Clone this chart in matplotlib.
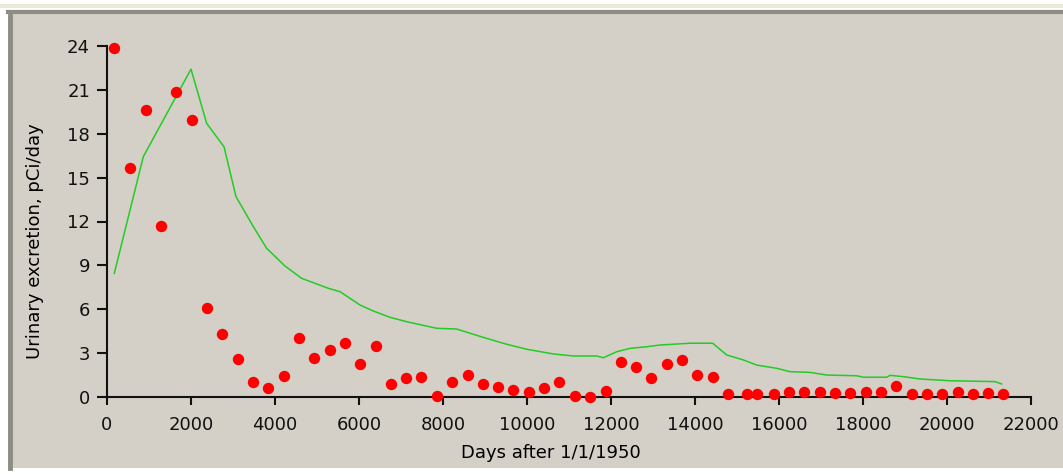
import matplotlib
matplotlib.use("Agg")
import matplotlib.pyplot as plt
from matplotlib.patches import Rectangle
from matplotlib.lines import Line2D

# measured urinary excretion (about one sample per year)
obs_days = [174, 548, 921, 1286, 1635, 2024, 2373, 2738, 3111, 3476, 3833, 4206,
            4571, 4921, 5302, 5667, 6024, 6397, 6754, 7111, 7484, 7849, 8207,
            8587, 8944, 9309, 9674, 10040, 10405, 10770, 11143, 11508, 11873,
            12238, 12587, 12960, 13325, 13683, 14050, 14421, 14794, 15240,
            15480, 15889, 16246, 16603, 16976, 17333, 17690, 18064, 18429,
            18786, 19159, 19516, 19888, 20254, 20611, 20984, 21340]
obs_vals = [23.86, 15.67, 19.6, 11.69, 20.86, 18.93, 6.12, 4.3, 2.59, 1.02, 0.66,
            1.48, 4.03, 2.66, 3.23, 3.73, 2.27, 3.5, 0.91, 1.3, 1.37, 0.11, 1.02,
            1.52, 0.91, 0.72, 0.5, 0.38, 0.61, 1.02, 0.11, 0.04, 0.45, 2.39,
            2.05, 1.3, 2.27, 2.55, 1.55, 1.37, 0.2, 0.2, 0.2, 0.2, 0.38, 0.38,
            0.34, 0.27, 0.27, 0.34, 0.38, 0.77, 0.2, 0.2, 0.2, 0.34, 0.23, 0.27,
            0.2]

# model prediction
model_days = [174, 864, 2000, 2373, 2786, 3071, 3484, 3802, 4238, 4635, 5270,
              5548, 6024, 6341, 6738, 7135, 7849, 8325, 8960, 9516, 9992, 10627,
              11103, 11659, 11817, 12135, 12452, 12849, 13167, 13881, 14421,
              14754, 15151, 15468, 15945, 16262, 16738, 17135, 17849, 18008,
              18564, 18643, 18960, 19357, 20071, 21143, 21302]
model_vals = [8.46, 16.42, 22.4, 18.7, 17.1, 13.7, 11.65, 10.17, 8.96, 8.12, 7.44,
              7.21, 6.3, 5.89, 5.46, 5.16, 4.71, 4.66, 4.09, 3.62, 3.28, 2.96,
              2.82, 2.82, 2.7, 3.11, 3.34, 3.45, 3.57, 3.69, 3.69, 2.89, 2.55,
              2.2, 1.98, 1.75, 1.7, 1.52, 1.47, 1.37, 1.37, 1.5, 1.41, 1.25, 1.13,
              1.07, 0.91]

x_ticks = list(range(0, 22001, 2000))
y_ticks = list(range(0, 25, 3))

W, H = 1063, 474
bg = "#D4D0C8"
fs = 13

plt.rcParams["font.family"] = ["DejaVu Sans"]
fig = plt.figure(figsize=(W / 100, H / 100), dpi=100, facecolor="white")

# window-like panel behind the chart
fig.patches.append(Rectangle((12 / W, 1 - 468 / H), 1, (468 - 12) / H,
                             transform=fig.transFigure, facecolor=bg,
                             edgecolor="none", zorder=-10))
fig.patches.append(Rectangle((0, 1 - 8 / H), 1, 4 / H, transform=fig.transFigure,
                             facecolor="#ECE9D8", edgecolor="none", zorder=-10))
fig.lines.append(Line2D([8 / W, 1], [1 - 12 / H] * 2, transform=fig.transFigure,
                        color="#8E8D84", lw=3, zorder=-9))
fig.lines.append(Line2D([9.5 / W] * 2, [1 - 12 / H, 1 - 468 / H],
                        transform=fig.transFigure, color="#8E8D84", lw=3.5, zorder=-9))

ax = fig.add_axes([107 / W, 1 - 397.3 / H, (1031 - 107) / W, (397.3 - 45.7) / H])
ax.set_facecolor("none")

ax.plot(model_days, model_vals, color="#22CC22", lw=1.1, zorder=2)
ax.plot(obs_days, obs_vals, "o", color="#FF0000", ms=8.2, mec="none",
        zorder=3, clip_on=False)

ax.set_xlim(0, 22000)
ax.set_ylim(0, 24)
ax.set_xticks(x_ticks)
ax.set_yticks(y_ticks)
for s in ["top", "right"]:
    ax.spines[s].set_visible(False)
for s in ["left", "bottom"]:
    ax.spines[s].set_linewidth(1.5)
    ax.spines[s].set_color("#111111")
ax.tick_params(axis="y", length=7.2, width=1.5, pad=5, labelsize=fs, colors="#111111")
ax.tick_params(axis="x", length=5.8, width=1.5, pad=8, labelsize=fs, colors="#111111")

ax.set_xlabel("Days after 1/1/1950", fontsize=fs)
ax.set_ylabel("Urinary excretion, pCi/day", fontsize=fs)
ax.xaxis.set_label_coords(0.48, -0.133)
ax.yaxis.set_label_coords(-0.068, 0.443)

fig.savefig("out.png", dpi=100, facecolor=fig.get_facecolor())
